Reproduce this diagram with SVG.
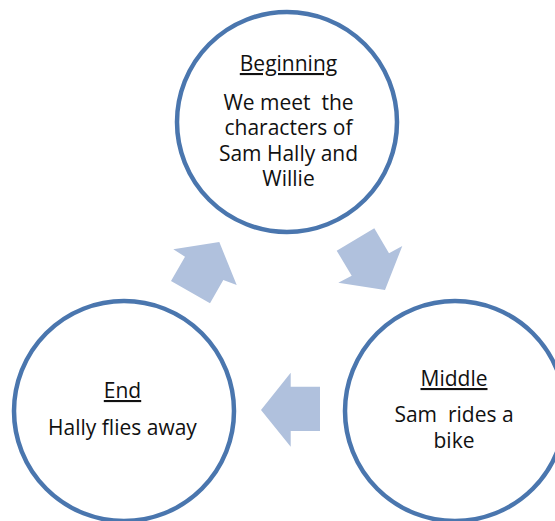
<svg xmlns="http://www.w3.org/2000/svg" width="555" height="521" viewBox="0 0 555 521">
<style>
.node{fill:#fff;stroke:#4a76ae;stroke-width:4.5}
.arr{fill:#b0c1dd;stroke:none}
text{font-family:"Open Sans","Liberation Sans",sans-serif;font-size:21px;fill:#111;text-anchor:middle;white-space:pre}
.h{text-decoration:underline}
</style>
<rect width="555" height="521" fill="#fff"/>
<g id="connectors">
<polygon class="arr" points="173.3,249.3 219.3,242 236.7,285 223.3,280 210,303.3 171,281 185,256.7"/>
<polygon class="arr" points="336.7,250.7 374.3,228.3 389,253.3 402.3,246 385,290 338.3,282.7 351.7,275.7"/>
<polygon class="arr" points="261,410 290.7,372.7 290.7,386.7 320,386.7 320,431 290.7,431 290.7,446.7"/>
</g>
<g id="beginning">
<circle class="node" cx="287" cy="122" r="110"/>
<text class="h" x="288.5" y="71">Beginning</text>
<text x="288.5" y="109.5">We meet  the</text>
<text x="288.5" y="135">characters of</text>
<text x="288.5" y="160.5">Sam Hally and</text>
<text x="288.5" y="186">Willie</text>
</g>
<g id="middle">
<circle class="node" cx="455" cy="411" r="110"/>
<text class="h" x="454" y="386">Middle</text>
<text x="454" y="421.5">Sam  rides a</text>
<text x="454" y="448">bike</text>
</g>
<g id="end">
<circle class="node" cx="124" cy="411" r="110"/>
<text class="h" x="122.5" y="398">End</text>
<text x="122.5" y="435">Hally flies away</text>
</g>
</svg>
